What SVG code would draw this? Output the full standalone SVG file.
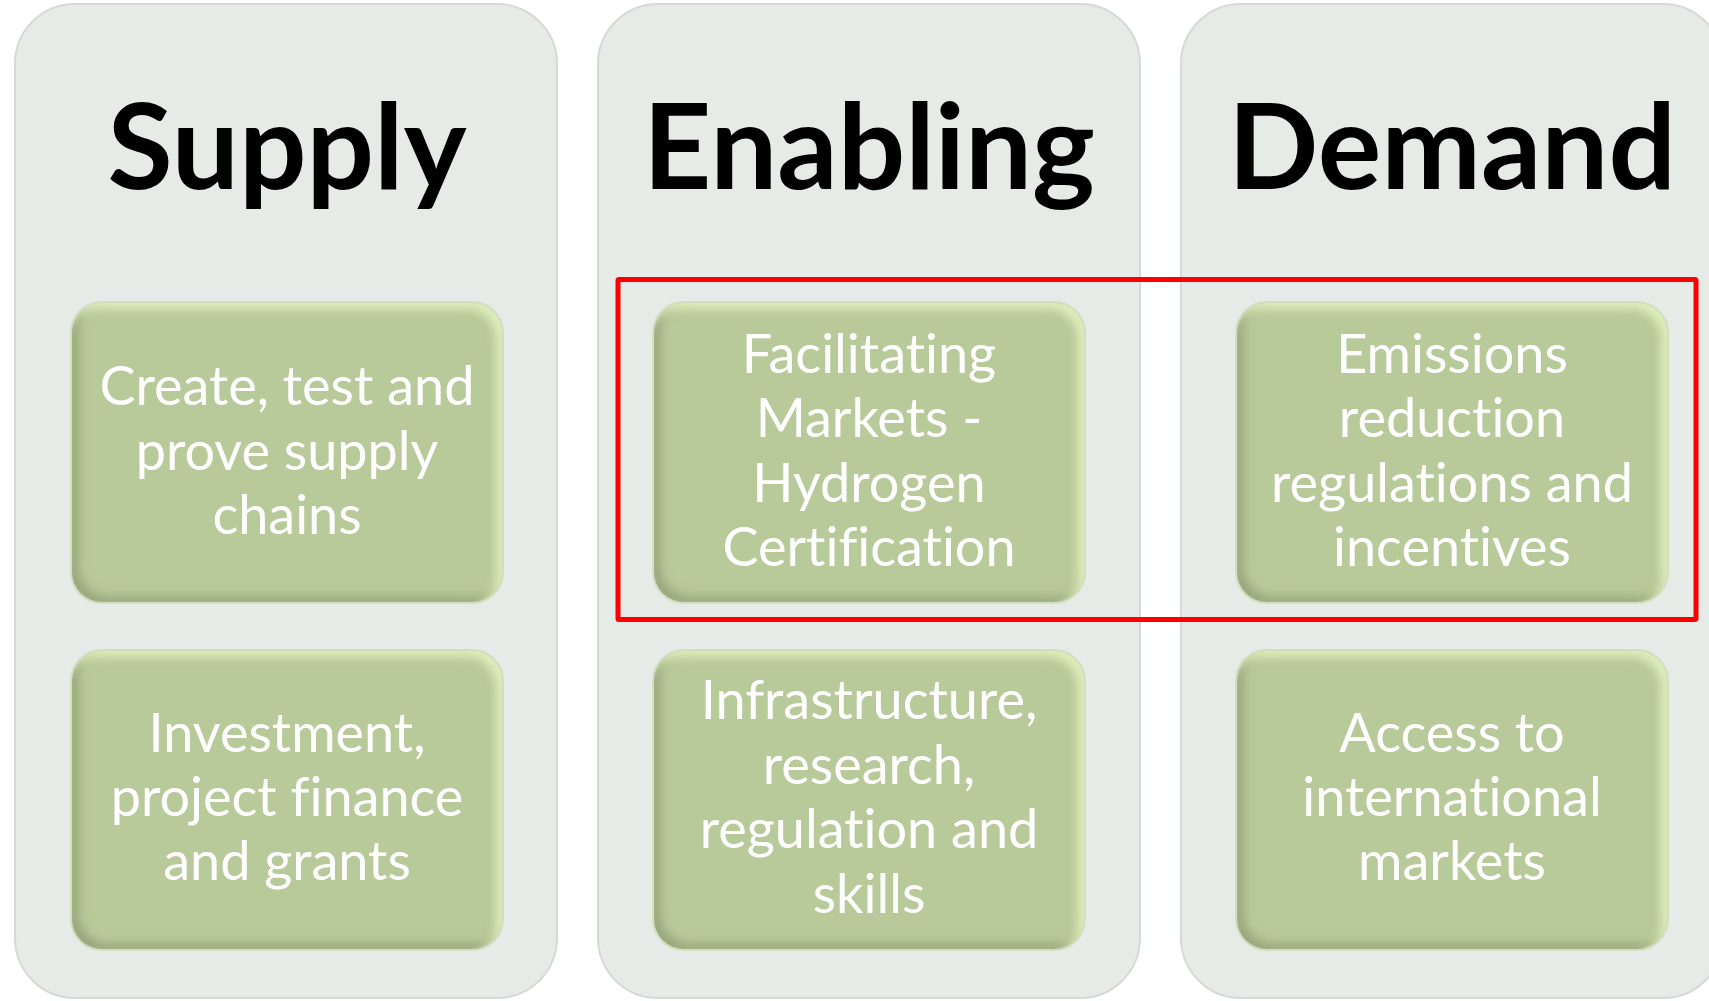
<svg xmlns="http://www.w3.org/2000/svg" width="1709" height="1001" viewBox="0 0 1709 1001">
<defs>
<style>
.panel{fill:#E7EBE8;stroke:#D6D9D7;stroke-width:2}
.box{fill:#B8C99A;filter:url(#bevel)}
.boxrim{fill:none;stroke:#D2DEC0;stroke-width:2}
.title{font-family:Lato,"Liberation Sans",sans-serif;font-weight:bold;font-size:119px;fill:#000000;text-anchor:middle;font-variant-ligatures:none}
.label{font-family:Lato,"Liberation Sans",sans-serif;font-size:54px;fill:#FFFFFF;text-anchor:middle;font-variant-ligatures:none;font-feature-settings:"liga" 0,"clig" 0}
.hl{fill:none;stroke:#FF0000;stroke-width:5}
</style>
<filter id="bevel" x="-5%" y="-5%" width="110%" height="110%">
<feGaussianBlur in="SourceAlpha" stdDeviation="5" result="b"/>
<feOffset in="b" dx="7" dy="-6" result="o1"/>
<feComposite in="SourceAlpha" in2="o1" operator="out" result="dk"/>
<feFlood flood-color="#7E8D68" flood-opacity="0.6" result="fd"/>
<feComposite in="fd" in2="dk" operator="in" result="dark"/>
<feOffset in="b" dx="-6" dy="6" result="o2"/>
<feComposite in="SourceAlpha" in2="o2" operator="out" result="lt"/>
<feFlood flood-color="#E2F2C0" flood-opacity="0.85" result="fl"/>
<feComposite in="fl" in2="lt" operator="in" result="light"/>
<feMerge><feMergeNode in="SourceGraphic"/><feMergeNode in="dark"/><feMergeNode in="light"/></feMerge>
</filter>
</defs>
<rect width="1709" height="1001" fill="#FFFFFF"/>

<g id="panel-supply">
<rect class="panel" x="15" y="4" width="542" height="994" rx="60"/>
<text class="title" x="287" y="189">Supply</text>
</g>
<g id="panel-enabling">
<rect class="panel" x="598" y="4" width="542" height="994" rx="60"/>
<text class="title" x="869" y="189">Enabling</text>
</g>
<g id="panel-demand">
<rect class="panel" x="1181" y="4" width="542" height="994" rx="60"/>
<text class="title" x="1452" y="189">Demand</text>
</g>

<g id="node-supply-1">
<rect class="boxrim" x="71" y="302" width="432" height="301" rx="31"/>
<rect class="box" x="72" y="303" width="430" height="299" rx="30"/>
<text class="label"><tspan x="287" y="405">Create, test and</tspan><tspan x="287" y="470">prove supply</tspan><tspan x="287" y="534">chains</tspan></text>
</g>
<g id="node-supply-2">
<rect class="boxrim" x="71" y="650" width="432" height="300" rx="31"/>
<rect class="box" x="72" y="651" width="430" height="298" rx="30"/>
<text class="label"><tspan x="287" y="752">Investment,</tspan><tspan x="287" y="816">project finance</tspan><tspan x="287" y="880">and grants</tspan></text>
</g>
<g id="node-enabling-1">
<rect class="boxrim" x="653" y="302" width="432" height="301" rx="31"/>
<rect class="box" x="654" y="303" width="430" height="299" rx="30"/>
<text class="label"><tspan x="869" y="373">Facilitating</tspan><tspan x="869" y="437">Markets -</tspan><tspan x="869" y="502">Hydrogen</tspan><tspan x="869" y="566">Certification</tspan></text>
</g>
<g id="node-enabling-2">
<rect class="boxrim" x="653" y="650" width="432" height="300" rx="31"/>
<rect class="box" x="654" y="651" width="430" height="298" rx="30"/>
<text class="label"><tspan x="869" y="719">Infrastructure,</tspan><tspan x="869" y="784">research,</tspan><tspan x="869" y="848">regulation and</tspan><tspan x="869" y="913">skills</tspan></text>
</g>
<g id="node-demand-1">
<rect class="boxrim" x="1236" y="302" width="432" height="301" rx="31"/>
<rect class="box" x="1237" y="303" width="430" height="299" rx="30"/>
<text class="label"><tspan x="1452" y="373">Emissions</tspan><tspan x="1452" y="437">reduction</tspan><tspan x="1452" y="502">regulations and</tspan><tspan x="1452" y="566">incentives</tspan></text>
</g>
<g id="node-demand-2">
<rect class="boxrim" x="1236" y="650" width="432" height="300" rx="31"/>
<rect class="box" x="1237" y="651" width="430" height="298" rx="30"/>
<text class="label"><tspan x="1452" y="752">Access to</tspan><tspan x="1452" y="816">international</tspan><tspan x="1452" y="880">markets</tspan></text>
</g>

<g id="connectors">
<rect id="highlight" class="hl" x="618" y="279.5" width="1078" height="340" rx="1"/>
</g>
</svg>
